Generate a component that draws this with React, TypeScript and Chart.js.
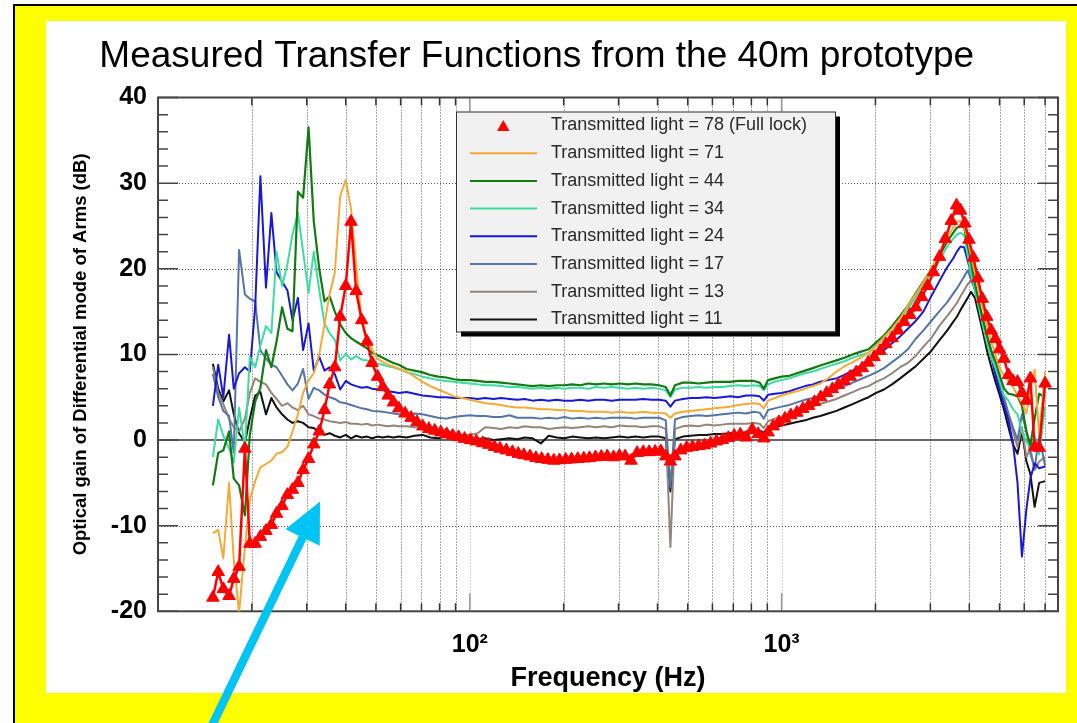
import React, { useEffect, useRef } from 'react';
import { Chart, registerables } from 'chart.js';

Chart.register(...registerables);

const FONT = '"Liberation Sans", Arial, Helvetica, sans-serif';

const TITLE = 'Measured Transfer Functions from the 40m prototype';
const X_TITLE = 'Frequency (Hz)';
const Y_TITLE = 'Optical gain of Differential mode of Arms (dB)';

const SERIES_LABELS = [
  'Transmitted light = 78 (Full lock)',
  'Transmitted light = 71',
  'Transmitted light = 44',
  'Transmitted light = 34',
  'Transmitted light = 24',
  'Transmitted light = 17',
  'Transmitted light = 13',
  'Transmitted light = 11',
];

const X_GRID = [10, 20, 30, 40, 50, 60, 70, 80, 90, 100, 200, 300, 400, 500, 600, 700, 800, 900, 1000, 2000, 3000, 4000, 5000, 6000, 7000];
const X_TICK_LABELS: Record<number, string> = { 100: '10\u00b2', 1000: '10\u00b3' };
const Y_TICKS = [-20, -10, 0, 10, 20, 30, 40];

// frequencies of the full-lock (triangle) measurement
const FREQ_78 = [
  15.0, 15.6, 16.2, 16.9, 17.5, 18.2, 19.0, 19.7, 20.5, 21.3,
  22.2, 23.1, 24.0, 25.0, 26.0, 27.0, 28.1, 29.2, 30.4, 31.6,
  32.9, 34.2, 35.5, 36.9, 38.4, 40.0, 41.6, 43.2, 45.0, 46.8,
  48.6, 50.6, 52.6, 54.7, 56.9, 59.2,
  62.0, 64.8, 67.7, 70.7, 73.9, 77.2, 80.7, 84.3, 88.1, 92.1,
  96.2, 100.5, 105, 110, 115, 120, 125, 131, 137, 143,
  149, 156, 163, 170, 178, 186, 194, 203, 212, 222,
  232, 242, 253, 264, 276, 289, 302, 315, 329, 344,
  360, 376, 393, 410, 425, 440, 455, 475, 496, 518,
  542, 566, 592, 618, 646, 675, 705, 737, 770, 805,
  841, 877, 905, 940, 980, 1025, 1070, 1120, 1170, 1220,
  1275, 1335, 1395, 1455, 1520, 1590, 1660, 1735, 1815, 1895,
  1980, 2070, 2160, 2260, 2360, 2470, 2580, 2695, 2815, 2940,
  3070, 3210, 3350, 3500, 3640, 3750, 3870, 3990, 4120, 4260,
  4400, 4550, 4700, 4850, 5000, 5170, 5340, 5520, 5710, 5900,
  6100, 6280, 6480, 6700, 7000,
];

const TL78 = [
  -18.4, -15.4, -17.4, -18.2, -16.2, -14.8, -1.0, -12.1, -12.1, -11.3,
  -10.6, -9.9, -8.6, -7.7, -6.4, -5.8, -5.0, -3.5, -2.2, -0.5,
  1.0, 3.5, 6.5, 8.5, 14.4, 18.0, 25.5, 17.4, 14.0, 11.5,
  9.0, 7.4, 6.2, 5.2, 4.4, 3.7,
  3.1, 2.6, 2.1, 1.6, 1.3, 1.1, 0.9, 0.7, 0.5, 0.35,
  0.15, 0.0, -0.15, -0.35, -0.55, -0.8, -1.0, -1.2, -1.4, -1.6,
  -1.75, -1.9, -2.1, -2.2, -2.3, -2.4, -2.35, -2.3, -2.25, -2.2,
  -2.15, -2.1, -2.0, -1.95, -1.9, -2.0, -1.85, -1.9, -2.4, -1.5,
  -1.4, -1.4, -1.35, -1.3, -1.9, -2.5, -1.9, -1.2, -0.9, -0.8,
  -0.7, -0.6, -0.4, -0.15, 0.0, 0.25, 0.5, 0.65, 0.3, 1.2,
  0.7, 0.2, 0.9, 1.6, 2.1, 2.5, 2.9, 3.2, 3.65, 4.0,
  4.45, 5.0, 5.5, 5.95, 6.45, 6.9, 7.4, 7.9, 8.4, 9.05,
  9.7, 10.4, 11.2, 11.9, 12.8, 13.8, 14.6, 15.5, 16.7, 18.0,
  19.6, 21.4, 23.5, 25.6, 27.4, 26.8, 25.3, 23.4, 21.3, 18.9,
  16.5, 14.4, 12.8, 11.8, 10.6, 9.5, 7.6, 6.9, 6.8, 5.5,
  4.6, 7.2, -0.8, -0.9, 6.6,
];

// frequencies of the other (line) measurements
const FREQ = [
  15.0, 15.6, 16.2, 16.9, 17.5, 18.2, 19.0, 19.7, 20.5, 21.3,
  22.2, 23.1, 24.0, 25.0, 26.0, 27.0, 28.1, 29.2, 30.4, 31.6,
  32.9, 34.2, 35.5, 36.9, 38.4, 40.0, 41.6, 43.2, 45.0, 46.8,
  48.6, 50.6, 52.6, 54.7, 56.9, 59.2, 62.7, 66.5, 70.5, 74.7,
  79.2, 84.0, 89.0, 94.3, 100, 106, 112, 119, 126, 134,
  142, 150, 159, 169, 179, 190, 201, 213, 226, 240,
  254, 269, 285, 303, 321, 340, 360, 382, 405, 425,
  440, 455, 482, 511, 542, 574, 609, 645, 684, 725,
  769, 815, 850, 877, 905, 950, 1000, 1060, 1120, 1190,
  1260, 1330, 1410, 1500, 1590, 1690, 1790, 1900, 2010, 2130,
  2260, 2400, 2540, 2690, 2850, 3020, 3200, 3400, 3550, 3650,
  3750, 3850, 3950, 4050, 4170, 4300, 4430, 4560, 4700, 4850,
  5000, 5170, 5340, 5520, 5710, 5900, 6100, 6280, 6480, 6700,
  7000,
];

const TL71 = [
  -10.9, -10.5, -13.8, -5.0, -14.0, -20.2, -12.5, -7.0, -4.8, -3.2,
  -2.8, -2.4, -1.6, -1.4, -0.8, 1.0, 3.0, 5.5, 7.0, 7.8,
  10.0, 13.5, 17.0, 19.5, 28.5, 30.4, 27.0, 20.5, 13.8, 12.0,
  10.6, 9.5, 9.1, 8.8, 8.6, 8.3, 8.0, 7.4, 6.8, 6.3,
  5.9, 5.5, 5.1, 4.9, 4.7, 4.5, 4.3, 4.2, 4.1, 3.9,
  3.8, 3.8, 3.7, 3.6, 3.6, 3.5, 3.5, 3.4, 3.4, 3.3,
  3.3, 3.3, 3.2, 3.3, 3.2, 3.2, 3.3, 3.2, 3.2, 3.1,
  2.6, 3.1, 3.3, 3.4, 3.5, 3.6, 3.7, 3.8, 3.9, 4.1,
  4.2, 4.3, 4.2, 3.7, 4.6, 4.9, 5.2, 5.5, 5.7, 6.0,
  6.3, 6.6, 7.2, 8.0, 8.6, 9.1, 9.6, 10.2, 11.0, 12.0,
  13.0, 14.2, 15.7, 17.0, 18.4, 20.0, 21.8, 23.6, 24.8, 25.5,
  25.6, 24.9, 23.5, 21.6, 19.5, 17.4, 15.2, 13.3, 11.5, 10.0,
  8.4, 7.5, 6.9, 6.2, 5.2, 4.4, 3.1, 6.0, 8.2, 0.5,
  8.0,
];

const TL44 = [
  -5.3, -1.5, -1.2, 1.0, -4.5, -5.3, -8.8, 0.6, 4.5, 6.1,
  10.5, 8.5, 11.5, 15.5, 13.0, 12.7, 29.0, 28.3, 36.5, 25.5,
  20.0, 16.2, 16.8, 15.0, 13.5, 12.5, 11.9, 11.5, 11.1, 10.7,
  10.2, 9.9, 9.6, 9.3, 9.0, 8.8, 8.3, 8.1, 7.9, 7.6,
  7.4, 7.3, 7.1, 7.0, 7.0, 6.9, 6.8, 6.8, 6.7, 6.6,
  6.5, 6.4, 6.3, 6.4, 6.3, 6.4, 6.4, 6.5, 6.4, 6.6,
  6.5, 6.6, 6.5, 6.6, 6.5, 6.6, 6.5, 6.5, 6.4, 6.2,
  5.2, 6.4, 6.7, 6.7, 6.6, 6.7, 6.8, 6.8, 6.8, 6.9,
  6.9, 6.9, 6.7, 6.0, 7.0, 7.2, 7.4, 7.5, 7.8, 8.1,
  8.4, 8.7, 9.0, 9.3, 9.6, 10.0, 10.3, 10.6, 11.4, 12.2,
  13.3, 14.5, 15.7, 17.1, 18.5, 19.9, 21.5, 23.2, 24.2, 24.8,
  25.0, 24.8, 22.8, 20.8, 18.3, 16.0, 14.0, 12.2, 10.5, 9.2,
  7.6, 6.0, 5.4, 5.3, 5.1, 4.0, 1.0, -0.6, 2.5, 5.4,
  5.0,
];

const TL34 = [
  -2.0, 2.4, 0.5, -1.0, -2.6, 3.8, -1.0, 9.7, 8.5, 11.0,
  13.3, 12.5, 22.0, 18.0, 20.5, 24.0, 26.5, 22.0, 17.2, 22.0,
  17.5, 13.6, 12.5, 11.7, 9.3, 10.1, 9.4, 9.8, 9.4, 9.3,
  9.1, 8.9, 8.8, 8.6, 8.5, 8.3, 7.9, 7.7, 7.4, 7.2,
  7.0, 6.9, 6.8, 6.7, 6.6, 6.5, 6.4, 6.4, 6.3, 6.2,
  6.2, 6.1, 6.0, 6.1, 6.0, 6.1, 6.0, 6.1, 6.1, 6.0,
  6.2, 6.1, 6.2, 6.1, 6.0, 6.1, 6.0, 6.1, 6.0, 5.8,
  5.0, 5.9, 6.1, 6.1, 6.2, 6.1, 6.2, 6.2, 6.3, 6.4,
  6.3, 6.4, 6.3, 5.8, 6.5, 6.8, 7.0, 7.2, 7.5, 7.8,
  8.0, 8.3, 8.6, 8.9, 9.2, 9.6, 9.9, 10.2, 11.1, 11.9,
  13.0, 14.2, 15.3, 16.7, 18.0, 19.5, 21.0, 22.6, 23.5, 24.0,
  24.2, 23.9, 21.6, 19.5, 17.5, 15.3, 13.2, 11.3, 9.7, 8.4,
  7.0, 5.2, 4.6, 3.6, 3.0, 1.0, -0.2, -0.8, 0.5, -1.7,
  3.9,
];

const TL24 = [
  4.0, 8.8, 5.0, 12.3, 6.0, 7.8, 8.5, 8.0, 15.6, 30.8,
  17.8, 26.5, 19.6, 18.5, 17.5, 14.0, 16.6, 10.5, 13.6, 8.1,
  9.7, 8.1, 8.5, 7.7, 5.9, 6.9, 6.5, 6.3, 6.1, 6.2,
  6.0, 5.9, 5.8, 5.7, 5.6, 5.5, 5.6, 5.4, 5.2, 5.1,
  5.0, 5.0, 4.9, 4.9, 4.9, 4.8, 4.9, 4.8, 4.9, 4.8,
  4.7, 4.8, 4.6, 4.7, 4.6, 4.7, 4.6, 4.6, 4.7, 4.6,
  4.7, 4.7, 4.6, 4.7, 4.7, 4.7, 4.8, 4.7, 4.7, 4.6,
  3.9, 4.6, 4.8, 4.9, 4.9, 5.0, 4.9, 5.0, 5.1, 5.0,
  5.2, 5.2, 5.1, 4.6, 5.3, 5.4, 5.5, 5.7, 6.0, 6.3,
  6.5, 6.8, 7.0, 7.2, 7.6, 8.1, 8.7, 9.4, 9.9, 10.5,
  11.3, 12.1, 13.0, 13.9, 15.0, 16.8, 18.5, 20.2, 21.2, 22.0,
  22.6, 22.5, 21.0, 19.5, 17.5, 15.6, 13.8, 11.8, 9.8, 7.6,
  5.8, 4.1, 2.3, -0.3, -5.0, -13.6, -8.0, -4.5, -2.7, -3.3,
  -3.1,
];

const TL17 = [
  7.7, 5.0, 3.4, 2.8, -1.5, 22.2, 17.0, 16.5, 16.2, 10.5,
  9.5, 8.8, 8.5, 7.5, 6.5, 5.8, 6.6, 8.3, 4.8, 6.1,
  5.8, 5.3, 5.0, 4.8, 4.4, 4.3, 4.1, 3.9, 3.7, 3.6,
  3.4, 3.35, 3.3, 3.2, 3.1, 3.0, 2.8, 3.1, 3.0, 2.8,
  2.6, 2.5, 2.7, 2.8, 2.9, 2.8, 2.8, 2.7, 2.7, 2.9,
  2.6, 2.6, 2.6, 2.5, 2.6, 2.5, 2.7, 2.5, 2.6, 2.5,
  2.6, 2.5, 2.6, 2.6, 2.6, 2.5, 2.6, 2.6, 2.6, 2.3,
  -5.5, 2.4, 2.7, 2.8, 2.9, 2.8, 2.9, 3.0, 3.1, 3.2,
  3.1, 3.3, 3.2, 2.5, 3.5, 3.7, 3.9, 4.1, 4.4, 4.7,
  4.9, 5.2, 5.5, 5.9, 6.3, 6.7, 7.1, 7.5, 7.9, 8.4,
  9.1, 9.8, 10.6, 11.8, 12.8, 13.9, 15.0, 16.1, 17.1, 17.7,
  18.4, 19.1, 19.8, 18.8, 17.6, 15.8, 13.9, 12.0, 10.2, 8.2,
  6.6, 5.0, 3.1, 1.5, 0.0, 3.0, 1.0, -1.6, -3.3, 0.5,
  -3.0,
];

const TL13 = [
  8.5, 5.5, 4.2, 2.5, 1.5, 1.0, 2.5, 5.5, 7.2, 6.8,
  6.5, 5.5, 4.8, 4.0, 4.3, 3.8, 3.5, 4.0, 3.0, 2.8,
  2.5, 2.4, 2.2, 2.1, 2.0, 2.1, 1.9, 1.9, 1.8, 1.9,
  1.7, 1.8, 1.7, 1.6, 1.7, 1.6, 1.6, 1.5, 1.6, 1.4,
  1.2, 1.1, 0.8, 0.6, 0.6, 0.8, 1.5, 1.4, 1.3, 1.5,
  1.4, 1.6, 1.5, 1.5, 1.3, 1.4, 1.5, 1.4, 1.5, 1.6,
  1.5, 1.6, 1.5, 1.7, 1.6, 1.6, 1.5, 1.6, 1.6, 1.3,
  -12.5, 1.3, 1.6, 1.7, 1.6, 1.8, 1.7, 1.8, 1.9, 1.9,
  1.9, 2.0, 1.9, 1.4, 2.2, 2.5, 2.7, 3.0, 3.3, 3.6,
  3.9, 4.2, 4.5, 4.8, 5.2, 5.6, 6.0, 6.3, 6.8, 7.2,
  7.8, 8.5, 9.0, 9.8, 10.9, 11.9, 13.3, 14.5, 15.4, 16.0,
  16.8, 17.5, 18.2, 18.6, 17.8, 15.7, 13.8, 11.5, 9.6, 8.0,
  6.4, 4.7, 3.0, 1.0, -0.8, 1.5, -2.0, -1.0, -3.5, -2.5,
  -2.0,
];

const TL11 = [
  8.9, 6.0, 4.5, 5.8, 3.0, 0.8, -0.3, 2.5, 5.2, 5.6,
  3.0, 4.9, 3.8, 3.0, 2.4, 2.0, 2.2, 2.0, 1.5, 1.4,
  0.9, 0.6, 0.8, 0.5, 0.3, 0.6, 0.2, 0.5, 0.3, 0.4,
  0.2, 0.4, 0.3, 0.4, 0.3, 0.4, 0.3, 0.5, 0.6, 0.3,
  0.2, 0.4, 0.2, 0.3, 0.2, 0.1, 0.2, 0.0, 0.1, 0.2,
  0.1, 0.3, 0.2, -0.4, 0.5, 0.3, 0.2, 0.4, 0.3, 0.2,
  0.3, 0.2, 0.3, 0.4, 0.3, 0.4, 0.3, 0.4, 0.4, 0.2,
  -6.0, 0.1, 0.4, 0.5, 0.6, 0.6, 0.7, 0.7, 0.8, 0.8,
  0.9, 1.0, 1.1, 0.9, 1.3, 1.5, 1.7, 1.9, 2.1, 2.3,
  2.6, 2.8, 3.1, 3.4, 3.8, 4.2, 4.6, 5.0, 5.5, 5.9,
  6.5, 7.2, 7.9, 8.6, 9.5, 10.4, 11.6, 12.8, 13.8, 14.4,
  15.2, 15.9, 16.6, 17.3, 16.6, 14.5, 12.5, 10.4, 8.6, 6.8,
  5.3, 3.5, 1.5, -0.5, -1.6, 1.0, -2.5, -4.0, -7.8, -5.0,
  -4.8,
];

const SERIES_VALUES = [TL78, TL71, TL44, TL34, TL24, TL17, TL13, TL11];
const SERIES_FREQS = [FREQ_78, FREQ, FREQ, FREQ, FREQ, FREQ, FREQ, FREQ];
const SERIES_COLORS = ['#ff0000', '#f5aa35', '#127a12', '#3ddc9f', '#1818d8', '#5574a8', '#958478', '#111111'];
const SERIES_WIDTHS = [2.5, 2, 2.2, 2, 2, 2, 2, 2];

const decorPlugin = {
  id: 'decor',
  beforeDatasetsDraw(chart: any) {
    const { ctx, chartArea: a, scales } = chart;
    const xs = scales.x;
    const ys = scales.y;
    ctx.save();
    ctx.lineWidth = 1;
    ctx.setLineDash([1, 2]);
    for (const v of X_GRID) {
      if (v <= 10) continue;
      const px = Math.round(xs.getPixelForValue(v)) + 0.5;
      ctx.strokeStyle = X_TICK_LABELS[v] ? '#aaaaaa' : '#555555';
      ctx.beginPath();
      ctx.moveTo(px, a.top);
      ctx.lineTo(px, a.bottom);
      ctx.stroke();
    }
    ctx.strokeStyle = '#555555';
    for (const v of Y_TICKS) {
      if (v === 0 || v === -20 || v === 40) continue;
      const py = Math.round(ys.getPixelForValue(v)) + 0.5;
      ctx.beginPath();
      ctx.moveTo(a.left, py);
      ctx.lineTo(a.right, py);
      ctx.stroke();
    }
    ctx.setLineDash([]);
    const zy = ys.getPixelForValue(0);
    ctx.strokeStyle = '#333333';
    ctx.lineWidth = 1.6;
    ctx.beginPath();
    ctx.moveTo(a.left, zy);
    ctx.lineTo(a.right, zy);
    ctx.stroke();
    ctx.lineWidth = 1.5;
    ctx.strokeStyle = '#444444';
    for (let v = -20; v <= 40; v += 2) {
      const py = ys.getPixelForValue(v);
      const len = v % 10 === 0 ? 20 : 10;
      ctx.beginPath();
      ctx.moveTo(a.left, py);
      ctx.lineTo(a.left + len, py);
      ctx.moveTo(a.right, py);
      ctx.lineTo(a.right - len, py);
      ctx.stroke();
    }
    for (const v of X_GRID) {
      if (v <= 10) continue;
      const px = xs.getPixelForValue(v);
      const dec = !!X_TICK_LABELS[v];
      const len = dec ? 18 : 8;
      ctx.strokeStyle = dec ? '#999999' : '#333333';
      ctx.beginPath();
      ctx.moveTo(px, a.bottom);
      ctx.lineTo(px, a.bottom - len);
      ctx.moveTo(px, a.top);
      ctx.lineTo(px, a.top + len);
      ctx.stroke();
    }
    ctx.strokeStyle = '#444444';
    ctx.lineWidth = 2;
    ctx.strokeRect(a.left, a.top, a.right - a.left, a.bottom - a.top);
    ctx.restore();
  },
  afterDatasetsDraw(chart: any) {
    const { ctx } = chart;
    const L = { x: 456, y: 111.5, w: 379, h: 220 };
    ctx.save();
    ctx.fillStyle = '#000000';
    ctx.fillRect(L.x + 5, L.y + 5, L.w, L.h);
    ctx.fillStyle = '#f1f1f1';
    ctx.fillRect(L.x, L.y, L.w, L.h);
    ctx.strokeStyle = '#333333';
    ctx.lineWidth = 1;
    ctx.strokeRect(L.x + 0.5, L.y + 0.5, L.w, L.h);
    chart.data.datasets.forEach((ds: any, i: number) => {
      const cy = 125.5 + i * 27.7;
      if (ds.pointStyle === 'triangle') {
        const r = 7.2;
        const cx = 503.3;
        const ty = cy + 1.8;
        ctx.fillStyle = ds.borderColor;
        ctx.beginPath();
        ctx.moveTo(cx, ty - r);
        ctx.lineTo(cx + r * 0.866, ty + r / 2);
        ctx.lineTo(cx - r * 0.866, ty + r / 2);
        ctx.closePath();
        ctx.fill();
      } else {
        ctx.strokeStyle = ds.borderColor;
        ctx.lineWidth = 2;
        ctx.beginPath();
        ctx.moveTo(470, cy);
        ctx.lineTo(537, cy);
        ctx.stroke();
      }
      ctx.fillStyle = '#2a2a2a';
      ctx.font = `18px ${FONT}`;
      ctx.textAlign = 'left';
      ctx.textBaseline = 'middle';
      ctx.fillText(ds.label, 551, cy);
    });
    ctx.restore();
  },
  afterDraw(chart: any) {
    const { ctx } = chart;
    ctx.save();
    ctx.fillStyle = '#000000';
    ctx.font = `37px ${FONT}`;
    ctx.textAlign = 'center';
    ctx.textBaseline = 'alphabetic';
    ctx.fillText(TITLE, 536.7, 66.7);
    const T = { x: 320, y: 501.5 };
    const P0 = { x: 205, y: 740 };
    const dx = T.x - P0.x;
    const dy = T.y - P0.y;
    const len = Math.hypot(dx, dy);
    const ux = dx / len;
    const uy = dy / len;
    const nx = -uy;
    const ny = ux;
    const headL = 40;
    const headW = 19;
    const sw = 4.2;
    const bx = T.x - ux * headL;
    const by = T.y - uy * headL;
    ctx.fillStyle = '#00c4f4';
    ctx.beginPath();
    ctx.moveTo(P0.x + nx * sw, P0.y + ny * sw);
    ctx.lineTo(bx + nx * sw, by + ny * sw);
    ctx.lineTo(bx + nx * headW, by + ny * headW);
    ctx.lineTo(T.x, T.y);
    ctx.lineTo(bx - nx * headW, by - ny * headW);
    ctx.lineTo(bx - nx * sw, by - ny * sw);
    ctx.lineTo(P0.x - nx * sw, P0.y - ny * sw);
    ctx.closePath();
    ctx.fill();
    ctx.restore();
  },
};

export default function App() {
  const canvasRef = useRef<HTMLCanvasElement | null>(null);

  useEffect(() => {
    if (!canvasRef.current) return;
    const datasets = SERIES_VALUES.map((vals, i) => {
      const isRed = i === 0;
      const freqs = SERIES_FREQS[i];
      return {
        label: SERIES_LABELS[i],
        data: freqs.map((f, k) => ({ x: f, y: vals[k] })),
        borderColor: SERIES_COLORS[i],
        backgroundColor: SERIES_COLORS[i],
        borderWidth: SERIES_WIDTHS[i],
        borderJoinStyle: 'round' as const,
        tension: 0,
        pointStyle: isRed ? 'triangle' : 'circle',
        pointRadius: isRed ? 7.2 : 0,
        pointBackgroundColor: SERIES_COLORS[i],
        pointBorderColor: SERIES_COLORS[i],
        pointBorderWidth: 1,
        pointHoverRadius: isRed ? 7.2 : 0,
        fill: false,
      };
    });

    const chart = new Chart(canvasRef.current, {
      type: 'line',
      data: { datasets },
      options: {
        responsive: false,
        animation: false,
        devicePixelRatio: 1,
        events: [],
        layout: { padding: { top: 97.5, right: 19, bottom: 0, left: 0 } },
        plugins: {
          legend: { display: false },
          title: { display: false },
          tooltip: { enabled: false },
        },
        scales: {
          x: {
            type: 'logarithmic',
            position: 'bottom',
            min: 10,
            max: 7700,
            afterBuildTicks: (s: any) => {
              s.ticks = X_GRID.map((v) => ({ value: v }));
            },
            afterFit: (s: any) => {
              s.height = 111.7;
            },
            grid: { display: false },
            border: { display: false },
            ticks: {
              autoSkip: false,
              maxRotation: 0,
              minRotation: 0,
              padding: 11,
              color: '#000000',
              font: { family: FONT, size: 25, weight: 'bold' },
              callback: (v: any) => X_TICK_LABELS[Number(v)] ?? '',
            },
            title: {
              display: true,
              text: X_TITLE,
              color: '#000000',
              font: { family: FONT, size: 27, weight: 'bold' },
              padding: { top: 0, bottom: 27.8 },
            },
          },
          y: {
            type: 'linear',
            min: -20,
            max: 40,
            afterBuildTicks: (s: any) => {
              s.ticks = Y_TICKS.map((v) => ({ value: v }));
            },
            afterFit: (s: any) => {
              s.width = 158;
            },
            grid: { display: false },
            border: { display: false },
            ticks: {
              padding: 3,
              color: '#000000',
              font: { family: FONT, size: 25, weight: 'bold' },
            },
            title: {
              display: true,
              text: Y_TITLE,
              color: '#000000',
              font: { family: FONT, size: 18.5, weight: 'bold' },
              padding: { top: 69.7, bottom: 0 },
            },
          },
        },
      },
      plugins: [decorPlugin],
    } as any);

    return () => {
      chart.destroy();
    };
  }, []);

  return (
    <div
      style={{
        position: 'absolute',
        left: 0,
        top: 0,
        width: 1077,
        height: 723,
        overflow: 'hidden',
        background: '#ffffff',
      }}
    >
      <div
        style={{
          position: 'absolute',
          left: 13,
          top: 4,
          width: 1100,
          height: 760,
          background: '#ffff00',
          borderLeft: '2px solid #000',
          borderTop: '2px solid #000',
        }}
      />
      <div
        style={{
          position: 'absolute',
          left: 46,
          top: 21,
          width: 1020,
          height: 672,
          background: '#ffffff',
        }}
      />
      <canvas
        ref={canvasRef}
        width={1077}
        height={723}
        style={{ position: 'absolute', left: 0, top: 0, width: 1077, height: 723 }}
      />
    </div>
  );
}
